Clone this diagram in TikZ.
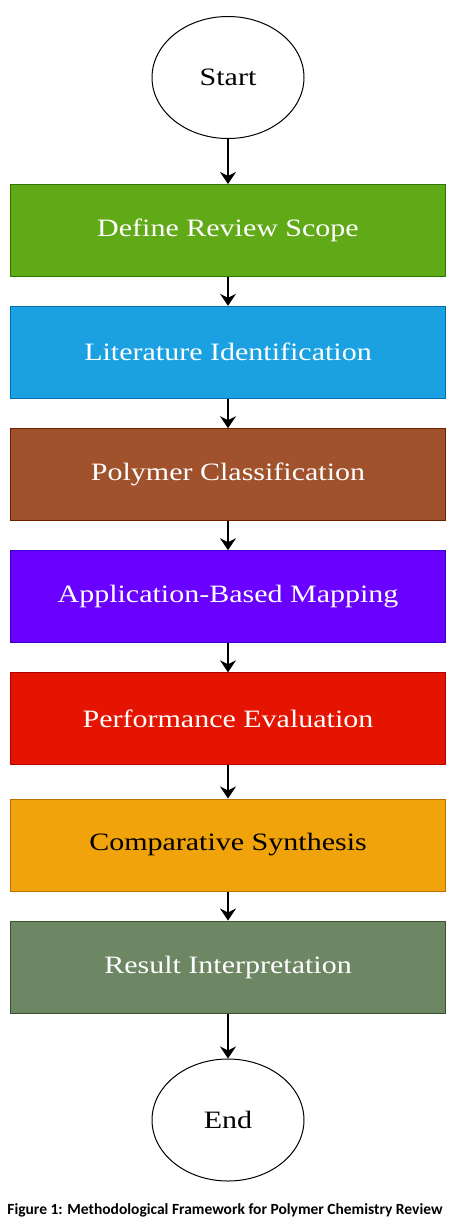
\documentclass[tikz,border=0pt]{standalone}
\usepackage{fontspec}
\setmainfont{Liberation Serif}
\newfontfamily\boxfont[FakeStretch=1.2]{Liberation Serif}
\newfontfamily\capfont{Carlito}
\usetikzlibrary{arrows.meta,shapes.geometric}

\begin{document}
\begin{tikzpicture}[x=1pt,y=-1pt,
  stepbox/.style={draw,line width=1pt,minimum width=435pt,minimum height=92pt,inner sep=0pt,font=\boxfont\fontsize{25}{29}\selectfont,text=white},
  terminal/.style={draw,ellipse,line width=1pt,minimum width=152pt,minimum height=122pt,inner sep=0pt,font=\boxfont\fontsize{25}{29}\selectfont},
  flow/.style={-{Stealth[length=12pt,width=16pt,inset=4pt]},line width=1.5pt}]
\useasboundingbox (0,0) rectangle (455,1232);
\node[terminal] (start) at (228,77.5) {Start};
\node[stepbox,fill={rgb,255:red,96;green,169;blue,23},draw={rgb,255:red,45;green,118;blue,0}] (scope) at (228,230.5) {Define Review Scope};
\node[stepbox,fill={rgb,255:red,27;green,161;blue,226},draw={rgb,255:red,0;green,110;blue,175}] (lit) at (228,352.3) {Literature Identification};
\node[stepbox,fill={rgb,255:red,160;green,82;blue,45},draw={rgb,255:red,109;green,31;blue,0}] (class) at (228,474.7) {Polymer Classification};
\node[stepbox,fill={rgb,255:red,106;green,0;blue,255},draw={rgb,255:red,55;green,0;blue,204}] (app) at (228,596.7) {Application-Based Mapping};
\node[stepbox,fill={rgb,255:red,229;green,20;blue,0},draw={rgb,255:red,178;green,0;blue,0}] (perf) at (228,718.8) {Performance Evaluation};
\node[stepbox,fill={rgb,255:red,240;green,163;blue,10},draw={rgb,255:red,189;green,112;blue,0},text=black] (comp) at (228,845) {Comparative Synthesis};
\node[stepbox,fill={rgb,255:red,109;green,135;blue,100},draw={rgb,255:red,58;green,84;blue,49}] (result) at (228,967) {Result Interpretation};
\node[terminal] (end) at (228,1120) {End};
\draw[flow] (start) -- (scope);
\draw[flow] (scope) -- (lit);
\draw[flow] (lit) -- (class);
\draw[flow] (class) -- (app);
\draw[flow] (app) -- (perf);
\draw[flow] (perf) -- (comp);
\draw[flow] (comp) -- (result);
\draw[flow] (result) -- (end);
\node[font=\capfont\bfseries\fontsize{15.5}{18}\selectfont] (caption) at (225,1210) {Figure 1: Methodological Framework for Polymer Chemistry Review};
\end{tikzpicture}
\end{document}
